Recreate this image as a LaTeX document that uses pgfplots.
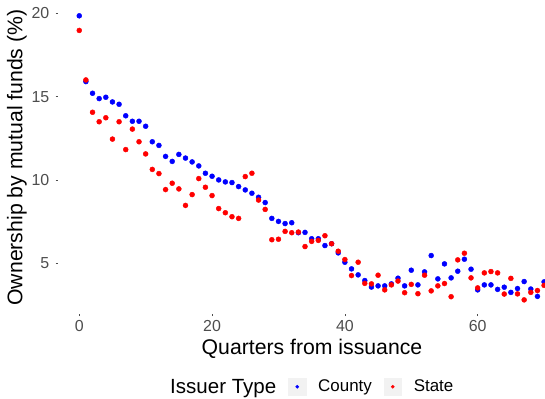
\documentclass[border=0pt]{standalone}
\usepackage{pgfplots}
\pgfplotsset{compat=1.18}
\usepackage{fontspec}
\setmainfont{Liberation Sans}

\definecolor{tickgray}{HTML}{4D4D4D}
\definecolor{keybg}{HTML}{F2F2F2}

% Mutual fund ownership by quarter since issuance
\pgfplotstableread{
q  own
0  19.85
1  15.90
2  15.20
3  14.88
4  14.96
5  14.68
6  14.54
7  13.85
8  13.52
9  13.52
10 13.22
11 12.29
12 12.07
13 11.41
14 11.11
15 11.53
16 11.31
17 11.08
18 10.84
19 10.40
20 10.22
21 10.00
22 9.88
23 9.84
24 9.60
25 9.40
26 9.20
27 8.96
28 8.64
29 7.69
30 7.51
31 7.38
32 7.43
33 6.83
34 6.85
35 6.47
36 6.47
37 6.06
38 6.17
39 5.62
40 5.06
41 4.66
42 4.30
43 3.96
44 3.57
45 3.64
46 3.64
47 3.76
48 4.10
49 3.64
50 4.58
51 3.70
52 4.48
53 5.46
54 4.06
55 4.96
56 4.12
57 4.52
58 5.24
59 4.64
60 3.40
61 3.70
62 3.70
63 3.43
64 3.56
65 3.25
66 3.48
67 3.90
68 3.45
69 3.01
70 3.88
}\county

\pgfplotstableread{
q  own
0  18.97
1  16.00
2  14.06
3  13.49
4  13.73
5  12.45
6  13.49
7  11.82
8  13.05
9  12.29
10 11.56
11 10.63
12 10.38
13 9.42
14 9.80
15 9.46
16 8.47
17 9.12
18 10.08
19 9.56
20 9.06
21 8.28
22 8.03
23 7.79
24 7.69
25 10.20
26 10.40
27 8.79
28 8.23
29 6.41
30 6.44
31 6.91
32 6.83
33 6.87
34 6.00
35 6.31
36 6.37
37 6.65
38 6.17
39 5.72
40 5.22
41 4.26
42 5.06
43 3.79
44 3.76
45 4.28
46 3.40
47 3.70
48 3.93
49 3.23
50 3.73
51 3.17
52 4.28
53 3.34
54 3.64
55 3.78
56 2.99
57 5.20
58 5.60
59 4.12
60 3.52
61 4.42
62 4.50
63 4.42
64 3.15
65 4.09
66 3.16
67 2.80
68 3.25
69 3.36
70 3.67
}\state

\begin{document}
\begin{tikzpicture}
\useasboundingbox (0,0) rectangle (545bp,399bp);
\begin{axis}[
  at={(58bp,85.3bp)}, anchor=south west,
  scale only axis, width=508bp, height=312.4bp,
  xmin=-3.2, xmax=73.3, ymin=1.97, ymax=20.72,
  axis line style={draw=none},
  tick pos=left,
  xtick={0,20,40,60}, ytick={5,10,15,20},
  tick align=outside, major tick length=2.5bp,
  tick style={tickgray, line width=0.5bp},
  /pgf/number format/assume math mode=true,
  ticklabel style={font=\fontsize{16}{19}\selectfont, text=tickgray},
  xticklabel style={anchor=north, inner sep=0pt, yshift=-4bp},
  yticklabel style={anchor=east, inner sep=0pt, xshift=-6bp},
  xlabel={Quarters from issuance},
  ylabel={Ownership by mutual funds (\%)},
  label style={font=\fontsize{21.3}{25}\selectfont, inner sep=0pt},
  xlabel style={at={(axis description cs:0.5,0)}, anchor=base, yshift=-40.9bp},
  ylabel style={at={(axis description cs:0,0.5)}, anchor=base, yshift=35.7bp},
  legend columns=-1,
  legend style={at={(axis description cs:0.1969,-0.2337)}, anchor=west,
    draw=none, fill=none, inner sep=0pt, column sep=12bp,
    font=\fontsize{17}{20}\selectfont,
    nodes={inner sep=0pt}},
  legend image code/.code={
    \fill[keybg] (0bp,-8.75bp) rectangle (17.5bp,8.75bp);
    \fill (8.75bp,0bp) circle (1.6bp);
  },
]
\addlegendimage{empty legend}
\addlegendentry{\fontsize{20.6}{24}\selectfont Issuer Type}
\addplot[only marks, mark=*, mark size=2.5bp, color=blue,
  mark options={draw=none, fill=blue}] table[x=q, y=own] {\county};
\addlegendentry{County}
\addplot[only marks, mark=*, mark size=2.5bp, color=red,
  mark options={draw=none, fill=red}] table[x=q, y=own] {\state};
\addlegendentry{State}
\end{axis}
\end{tikzpicture}
\end{document}
